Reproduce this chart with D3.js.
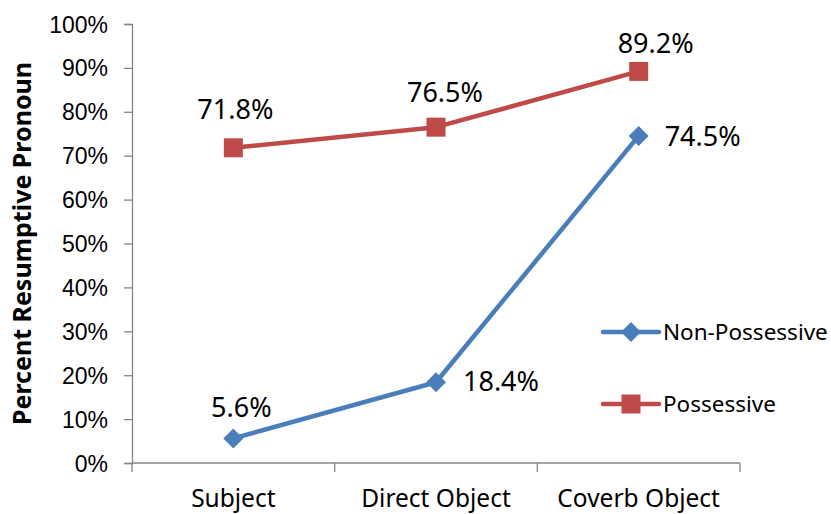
<!DOCTYPE html>
<html>
<head>
<meta charset="utf-8">
<script src="https://cdn.jsdelivr.net/npm/d3@7"></script>
<style>
  body { margin: 0; background: #fff; }
  svg { font-family: "Noto Sans", "Open Sans", sans-serif; }
</style>
</head>
<body>
<div id="chart"></div>
<script>
// Data
var categories = ["Subject", "Direct Object", "Coverb Object"];
var nonPossessive = [5.6, 18.4, 74.5];
var possessive = [71.8, 76.5, 89.2];
var yTicks = [0, 10, 20, 30, 40, 50, 60, 70, 80, 90, 100];

var width = 831, height = 514;
var margin = {left: 132, right: 91, top: 24, bottom: 51};

var svg = d3.select("#chart").append("svg")
    .attr("width", width)
    .attr("height", height);

var x = d3.scaleBand()
    .domain(categories)
    .range([margin.left, width - margin.right]);

var y = d3.scaleLinear()
    .domain([0, 100])
    .range([height - margin.bottom, margin.top]);

var axisColor = "#868686";

// Y axis
var yAxis = svg.append("g")
    .attr("transform", "translate(" + margin.left + ",0)")
    .call(d3.axisLeft(y).tickValues(yTicks).tickSize(8).tickPadding(16)
        .tickFormat(function(d) { return d + "%"; }));
yAxis.select(".domain").attr("stroke", axisColor).attr("stroke-width", 1.3);
yAxis.selectAll(".tick line").attr("stroke", axisColor).attr("stroke-width", 1.3);
yAxis.selectAll("text")
    .attr("fill", "#000")
    .style("font-size", "23px")
    .attr("dy", "0.35em");

// X axis (ticks at category boundaries)
var xAxis = svg.append("g")
    .attr("transform", "translate(0," + y(0) + ")");
xAxis.append("line")
    .attr("x1", margin.left).attr("x2", width - margin.right)
    .attr("stroke", axisColor).attr("stroke-width", 1.3);
var bounds = categories.map(function(c) { return x(c); }).concat([x(categories[categories.length - 1]) + x.bandwidth()]);
xAxis.selectAll(".bound").data(bounds)
    .enter().append("line")
    .attr("x1", function(d) { return d; })
    .attr("x2", function(d) { return d; })
    .attr("y1", 0).attr("y2", 9)
    .attr("stroke", axisColor).attr("stroke-width", 1.3);
xAxis.selectAll(".cat").data(categories)
    .enter().append("text")
    .attr("x", function(d) { return x(d) + x.bandwidth() / 2; })
    .attr("y", 44)
    .attr("text-anchor", "middle")
    .style("font-size", "24.5px")
    .text(function(d) { return d; });

// Y title
svg.append("text")
    .attr("transform", "translate(31," + y(50) + ") rotate(-90)")
    .attr("text-anchor", "middle")
    .style("font-size", "25px")
    .style("font-weight", "bold")
    .text("Percent Resumptive Pronoun");

var line = d3.line()
    .x(function(d, i) { return x(categories[i]) + x.bandwidth() / 2; })
    .y(function(d) { return y(d); });

var series = [
    {name: "Non-Possessive", values: nonPossessive, color: "#4A7EBB", marker: "diamond",
     labels: [["middle", 8, -21], ["start", 27, 9], ["start", 26, 10]]},
    {name: "Possessive", values: possessive, color: "#BE4B48", marker: "square",
     labels: [["middle", 2, -29], ["middle", 9, -25], ["middle", 17, -18]]}
];

function drawMarker(g, type, color) {
    if (type === "diamond") {
        g.append("path").attr("d", "M0,-10L10,0L0,10L-10,0Z").attr("fill", color);
    } else {
        g.append("rect").attr("x", -9.5).attr("y", -9.5).attr("width", 19).attr("height", 19)
            .attr("fill", color);
    }
}

series.forEach(function(s) {
    svg.append("path")
        .datum(s.values)
        .attr("d", line)
        .attr("fill", "none")
        .attr("stroke", s.color)
        .attr("stroke-width", 4.5)
        .attr("stroke-linejoin", "round");

    s.values.forEach(function(v, i) {
        var cx = x(categories[i]) + x.bandwidth() / 2, cy = y(v);
        var m = svg.append("g").attr("transform", "translate(" + cx + "," + cy + ")");
        drawMarker(m, s.marker, s.color);

        var p = s.labels[i];
        svg.append("text")
            .attr("x", cx + p[1])
            .attr("y", cy + p[2])
            .attr("text-anchor", p[0])
            .style("font-size", "27px")
            .text(v.toFixed(1) + "%");
    });
});

// Legend
var legend = svg.append("g").attr("transform", "translate(603,332)");
series.forEach(function(s, i) {
    var g = legend.append("g").attr("transform", "translate(0," + (i * 72) + ")");
    g.append("line").attr("x1", 0).attr("x2", 56)
        .attr("stroke", s.color).attr("stroke-width", 4.5).attr("stroke-linecap", "round");
    var m = g.append("g").attr("transform", "translate(28,0)");
    drawMarker(m, s.marker, s.color);
    g.append("text")
        .attr("x", 60).attr("y", 8)
        .style("font-size", "22.5px")
        .text(s.name);
});
</script>
</body>
</html>
